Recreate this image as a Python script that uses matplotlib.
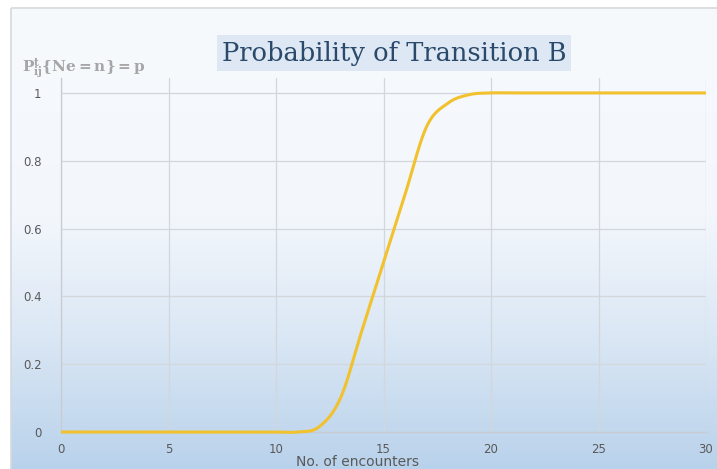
"""Transition probability curve."""

import matplotlib
matplotlib.use("Agg")
import matplotlib.pyplot as plt
from matplotlib.colors import LinearSegmentedColormap
from matplotlib.patches import Rectangle
import numpy as np

W, H, DPI = 717, 469, 100

encounters = list(range(0, 31))
probability = [0, 0, 0, 0, 0, 0, 0, 0, 0, 0, 0,
               0.0, 0.015, 0.10, 0.30, 0.50, 0.70, 0.90, 0.97, 0.995, 1.0,
               1, 1, 1, 1, 1, 1, 1, 1, 1, 1]

x_ticks = [0, 5, 10, 15, 20, 25, 30]
y_ticks = [0, 0.2, 0.4, 0.6, 0.8, 1]
y_tick_labels = ["0", "0.2", "0.4", "0.6", "0.8", "1"]

TITLE = "Probability of Transition B"
Y_LABEL = r"$\mathbf{P_{ij}^{t}\{Ne = n\} = p}$"
X_LABEL = "No. of encounters"


def smooth(xs, ys, steps=20):
    """Catmull-Rom style smoothing through the points, like a spreadsheet 'smoothed line'."""
    xs = np.asarray(xs, float)
    ys = np.asarray(ys, float)
    px = np.concatenate([[xs[0]], xs, [xs[-1]]])
    py = np.concatenate([[ys[0]], ys, [ys[-1]]])
    out_x, out_y = [], []
    t = np.linspace(0, 1, steps, endpoint=False)
    for i in range(1, len(px) - 2):
        p0 = np.array([px[i], py[i]])
        p3 = np.array([px[i + 1], py[i + 1]])
        p1 = p0 + (np.array([px[i + 1], py[i + 1]]) - np.array([px[i - 1], py[i - 1]])) / 6
        p2 = p3 - (np.array([px[i + 2], py[i + 2]]) - np.array([px[i], py[i]])) / 6
        b = ((1 - t) ** 3)[:, None] * p0 + (3 * (1 - t) ** 2 * t)[:, None] * p1 \
            + (3 * (1 - t) * t ** 2)[:, None] * p2 + (t ** 3)[:, None] * p3
        out_x.extend(b[:, 0])
        out_y.extend(b[:, 1])
    out_x.append(xs[-1])
    out_y.append(ys[-1])
    return np.array(out_x), np.array(out_y)


fig = plt.figure(figsize=(W / DPI, H / DPI), dpi=DPI)
fig.patch.set_facecolor("white")

# chart area background with a vertical gradient
bg = fig.add_axes([0, 0, 1, 1], zorder=-2)
bg.set_xlim(0, W)
bg.set_ylim(H, 0)
bg.axis("off")
cmap = LinearSegmentedColormap.from_list(
    "chartbg", [(0.0, "#f7fafd"), (0.45, "#f3f7fc"), (0.7, "#dce8f5"), (1.0, "#b9d2eb")])
grad = np.linspace(0, 1, 256)[:, None]
bg.imshow(grad, cmap=cmap, aspect="auto", extent=[11, W, H, 8], zorder=0)
bg.add_patch(Rectangle((11, 8), W, H, fill=False, edgecolor="#d6d9dd", lw=1.2, zorder=1))

ax = fig.add_axes([61 / W, 37 / H, 645 / W, 354 / H])
ax.patch.set_alpha(0)
ax.set_xlim(0, 30)
ax.set_ylim(0, 1.044)

sx, sy = smooth(encounters, probability)
ax.plot(sx, sy, color="#f2c12e", lw=2.2, solid_capstyle="butt", clip_on=False, zorder=3)

ax.set_xticks(x_ticks)
ax.set_yticks(y_ticks)
ax.set_yticklabels(y_tick_labels)
ax.tick_params(length=0, labelsize=8.5, colors="#595959")
ax.tick_params(axis="x", pad=8)
ax.tick_params(axis="y", pad=14)
ax.grid(True, color="#d3d6da", lw=0.9)
for side in ("top", "right"):
    ax.spines[side].set_visible(False)
for side in ("left", "bottom"):
    ax.spines[side].set_color("#c8cbd0")
    ax.spines[side].set_linewidth(0.9)

fig.text(394 / W, 1 - 53 / H, TITLE, ha="center", va="center", fontsize=18.5,
         family="DejaVu Serif", color="#2b4a6b",
         bbox=dict(boxstyle="square,pad=0.2", facecolor="#dde8f4", edgecolor="none"))
fig.text(22 / W, 1 - 68 / H, Y_LABEL, ha="left", va="center", fontsize=11,
         color="#a6a6a6", math_fontfamily="dejavuserif")
fig.text(357 / W, 1 - 462 / H, X_LABEL, ha="center", va="center", fontsize=10,
         color="#595959")

plt.savefig("out.png", dpi=DPI, facecolor=fig.get_facecolor())
